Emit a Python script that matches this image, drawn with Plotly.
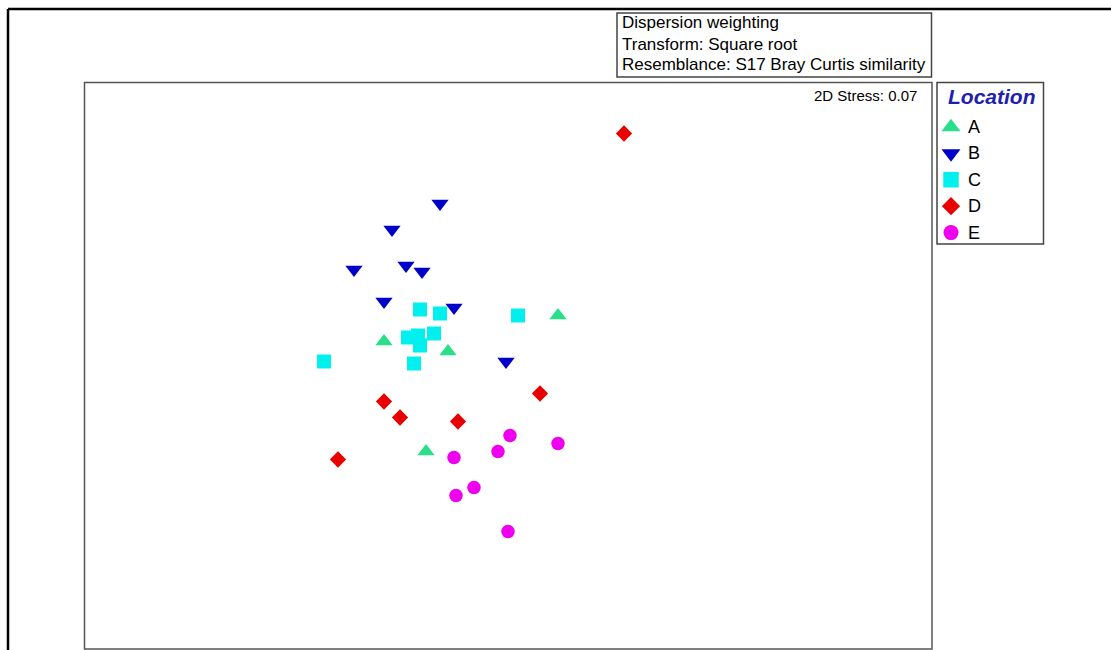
import plotly.graph_objects as go

# nMDS ordination coordinates per location group
groups = ["A", "B", "C", "D", "E"]

a_x = [0.25, -0.62, -0.30, -0.41]
a_y = [0.25, 0.12, 0.07, -0.43]

b_x = [-0.34, -0.58, -0.77, -0.51, -0.43, -0.62, -0.27, -0.01]
b_y = [0.81, 0.68, 0.48, 0.50, 0.47, 0.32, 0.29, 0.02]

c_x = [-0.44, -0.34, 0.05, -0.50, -0.45, -0.44, -0.37, -0.92, -0.47]
c_y = [0.28, 0.26, 0.25, 0.14, 0.15, 0.10, 0.16, 0.02, 0.01]

d_x = [0.58, 0.16, -0.62, -0.54, -0.25, -0.85]
d_y = [1.16, -0.14, -0.18, -0.26, -0.28, -0.47]

e_x = [0.01, 0.25, -0.05, -0.27, -0.17, -0.26, 0.00]
e_y = [-0.35, -0.39, -0.43, -0.46, -0.61, -0.65, -0.83]

info_lines = [
    "Dispersion weighting",
    "Transform: Square root",
    "Resemblance: S17 Bray Curtis similarity",
]
stress_label = "2D Stress: 0.07"
legend_title = "Location"

# marker styling per group
symbols = ["triangle-up", "triangle-down", "square", "diamond", "circle"]
colors = ["#2adf8a", "#0000c8", "#00f0f0", "#e80000", "#ee00ee"]
sizes = [15, 15, 14, 12.5, 13.5]

W, H = 1111, 650
FONT = "Liberation Sans, Arial, sans-serif"


def px(x):
    return x / W


def py(y):
    return 1 - y / H


# page layout (pixels)
PLOT_L, PLOT_R, PLOT_T, PLOT_B = 84.5, 932, 82.5, 649
LEG_L, LEG_R, LEG_T, LEG_B = 937, 1043.5, 82.5, 244
LEG_ROW0, LEG_STEP = 127, 26.4
LEG_MARK_X, LEG_TEXT_X = 951, 966

fig = go.Figure()

series = [(a_x, a_y), (b_x, b_y), (c_x, c_y), (d_x, d_y), (e_x, e_y)]
for name, (xs, ys), sym, col, sz in zip(groups, series, symbols, colors, sizes):
    fig.add_trace(go.Scatter(
        x=xs, y=ys, mode="markers", name=name,
        marker=dict(symbol=sym, color=col, size=sz, opacity=1, line=dict(width=0)),
        xaxis="x", yaxis="y", showlegend=False,
    ))

# key swatches drawn on a small dedicated axis pair
leg_w = LEG_R - LEG_L
fig.add_trace(go.Scatter(
    x=[(LEG_MARK_X - LEG_L) / leg_w] * len(groups),
    y=list(range(len(groups))),
    mode="markers",
    marker=dict(symbol=symbols, color=colors, size=[s + 1.5 for s in sizes],
                opacity=1, line=dict(width=0)),
    xaxis="x2", yaxis="y2", showlegend=False, hoverinfo="skip",
))

# main axes: 200 px per unit, centred in the frame
x_half = (PLOT_R - PLOT_L) / 2 / 200
y_half = (PLOT_B - PLOT_T) / 2 / 200
x_mid = ((PLOT_L + PLOT_R) / 2 - 508) / 200
y_mid = (365.5 - (PLOT_T + PLOT_B) / 2) / 200

leg_top_val = (LEG_T - LEG_ROW0) / LEG_STEP
leg_bot_val = (LEG_B - LEG_ROW0) / LEG_STEP

hidden = dict(visible=False, showgrid=False, zeroline=False, fixedrange=True)

fig.update_layout(
    width=W, height=H, autosize=False,
    margin=dict(l=0, r=0, t=0, b=0, pad=0),
    paper_bgcolor="white", plot_bgcolor="white",
    font=dict(family=FONT, color="#000"),
    showlegend=False,
    xaxis=dict(domain=[px(PLOT_L), px(PLOT_R)], range=[x_mid - x_half, x_mid + x_half], **hidden),
    yaxis=dict(domain=[py(PLOT_B), py(PLOT_T)], range=[y_mid - y_half, y_mid + y_half], **hidden),
    xaxis2=dict(domain=[px(LEG_L), px(LEG_R)], range=[0, 1], anchor="y2", **hidden),
    yaxis2=dict(domain=[py(LEG_B), py(LEG_T)], range=[leg_bot_val, leg_top_val], anchor="x2", **hidden),
)

shapes = [
    # outer frame edges
    dict(type="line", xref="paper", yref="paper", x0=px(8), x1=px(8), y0=py(9), y1=py(H + 10),
         line=dict(color="#000", width=2.5)),
    dict(type="line", xref="paper", yref="paper", x0=px(8), x1=px(W + 10), y0=py(9), y1=py(9),
         line=dict(color="#000", width=2.5)),
    # ordination frame
    dict(type="rect", xref="paper", yref="paper", x0=px(PLOT_L), x1=px(PLOT_R), y0=py(PLOT_B), y1=py(PLOT_T),
         line=dict(color="#555", width=1.5)),
    # info box
    dict(type="rect", xref="paper", yref="paper", x0=px(617), x1=px(931.5), y0=py(77), y1=py(13),
         line=dict(color="#444", width=1.5)),
    # key box
    dict(type="rect", xref="paper", yref="paper", x0=px(LEG_L), x1=px(LEG_R), y0=py(LEG_B), y1=py(LEG_T),
         line=dict(color="#444", width=1.5)),
]

annotations = []
for line, yy in zip(info_lines, [23, 44, 65]):
    annotations.append(dict(
        text=line, xref="paper", yref="paper", x=px(619.5), y=py(yy),
        xanchor="left", yanchor="middle", showarrow=False,
        font=dict(size=17, family=FONT, color="#000"),
    ))
annotations.append(dict(
    text=stress_label, xref="paper", yref="paper", x=px(919), y=py(96),
    xanchor="right", yanchor="middle", showarrow=False,
    font=dict(size=15, family=FONT, color="#000"),
))
annotations.append(dict(
    text="<b><i>" + legend_title + "</i></b>", xref="paper", yref="paper", x=px(946), y=py(96.5),
    xanchor="left", yanchor="middle", showarrow=False,
    font=dict(size=21, family=FONT, color="#2020b0"),
))
for i, name in enumerate(groups):
    annotations.append(dict(
        text=name, xref="x2", yref="y2", x=(LEG_TEXT_X - LEG_L) / leg_w, y=i,
        xanchor="left", yanchor="middle", showarrow=False,
        font=dict(size=18, family=FONT, color="#000"),
    ))

fig.update_layout(shapes=shapes, annotations=annotations)

fig.write_html("out.html", config={"displayModeBar": False})
